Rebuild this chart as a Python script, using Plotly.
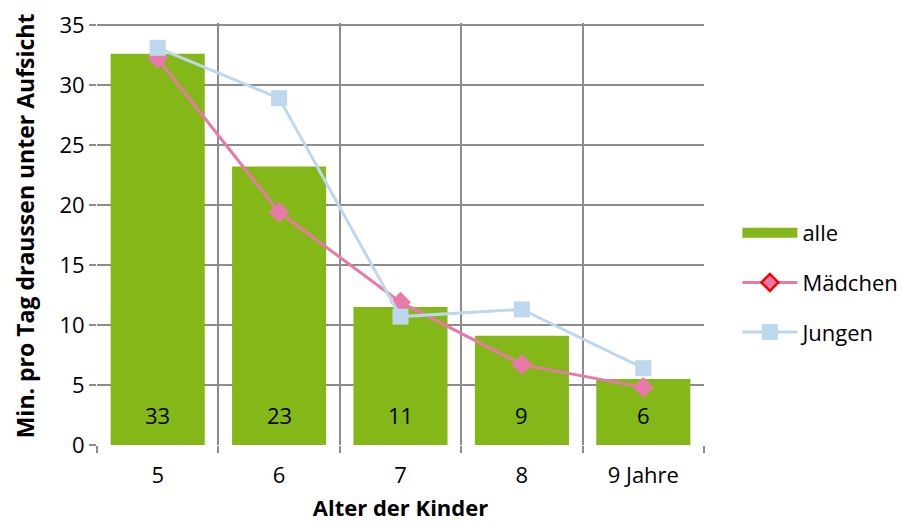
import plotly.graph_objects as go

categories = ["5", "6", "7", "8", "9 Jahre"]
alle = [32.6, 23.2, 11.5, 9.1, 5.5]
alle_labels = ["33", "23", "11", "9", "6"]
maedchen = [32.2, 19.4, 11.9, 6.7, 4.8]
jungen = [33.1, 28.9, 10.7, 11.3, 6.4]
y_ticks = [0, 5, 10, 15, 20, 25, 30, 35]

FONT = "Open Sans"
GREEN = "#84B819"
PINK = "#E879A9"
BLUE = "#BDD7EE"
GRID = "#8C8C8C"

xs = list(range(len(categories)))

fig = go.Figure()
fig.add_trace(go.Bar(x=xs, y=alle, name="alle", marker=dict(color=GREEN, line=dict(width=0)),
                     width=0.775, showlegend=False, legendgroup="a"))
fig.add_trace(go.Scatter(x=[None], y=[None], name="alle", mode="lines",
                         line=dict(color=GREEN, width=16), legendgroup="a"))
fig.add_trace(go.Scatter(x=xs, y=maedchen, name="Mädchen", mode="lines+markers",
                         line=dict(color=PINK, width=3),
                         marker=dict(symbol="diamond", size=16, color=PINK, line=dict(width=0)),
                         showlegend=False, legendgroup="m"))
fig.add_trace(go.Scatter(x=[None], y=[None], name="Mädchen", mode="lines+markers",
                         line=dict(color=PINK, width=3), legendgroup="m",
                         marker=dict(symbol="diamond", size=13, color=PINK, line=dict(color="#FF0000", width=2.5))))
fig.add_trace(go.Scatter(x=xs, y=jungen, name="Jungen", mode="lines+markers",
                         line=dict(color=BLUE, width=3), legendgroup="j",
                         marker=dict(symbol="square", size=16, color=BLUE, line=dict(width=0))))

for x, lab in zip(xs, alle_labels):
    fig.add_annotation(x=x, y=2.5, text=lab, showarrow=False,
                       font=dict(family=FONT, size=22, color="#000000"))

fig.add_annotation(xref="paper", yref="paper", x=-0.119, y=0.52, xanchor="center", yanchor="middle",
                   text="<b>Min. pro Tag draussen unter Aufsicht</b>", textangle=-90, showarrow=False,
                   font=dict(family=FONT, size=23, color="#000000"))

fig.update_layout(
    width=905, height=530,
    margin=dict(l=89, r=209, t=15, b=93, autoexpand=False),
    plot_bgcolor="white", paper_bgcolor="white",
    font=dict(family=FONT, size=22, color="#000000"),
    bargap=0.22,
    showlegend=True,
    legend=dict(x=1.055, y=0.385, xanchor="left", yanchor="middle",
                font=dict(family=FONT, size=22), itemwidth=55,
                traceorder="grouped", tracegroupgap=18, bgcolor="rgba(0,0,0,0)"),
    xaxis=dict(
        range=[-0.5, 4.5], tickvals=xs, ticktext=categories, ticks="",
        showgrid=False, zeroline=False, showline=False, automargin=False,
        tickfont=dict(family=FONT, size=22), ticklabeloverflow="allow",
        ticklabelstandoff=15,
        minor=dict(tick0=-0.5, dtick=1, ticks="outside", ticklen=7, tickcolor=GRID,
                   tickwidth=1.5, showgrid=True, gridcolor=GRID, gridwidth=1.5),
        title=dict(text="<b>Alter der Kinder</b>", font=dict(family=FONT, size=22), standoff=12),
    ),
    yaxis=dict(
        range=[0, 35.166], tickvals=y_ticks, ticks="outside", ticklen=7, tickcolor=GRID, tickwidth=1.5,
        showgrid=True, gridcolor=GRID, gridwidth=1.5, zeroline=False, automargin=False,
        showline=False, tickfont=dict(family=FONT, size=22), ticklabeloverflow="allow",
    ),
)

fig.write_html("out.html")
